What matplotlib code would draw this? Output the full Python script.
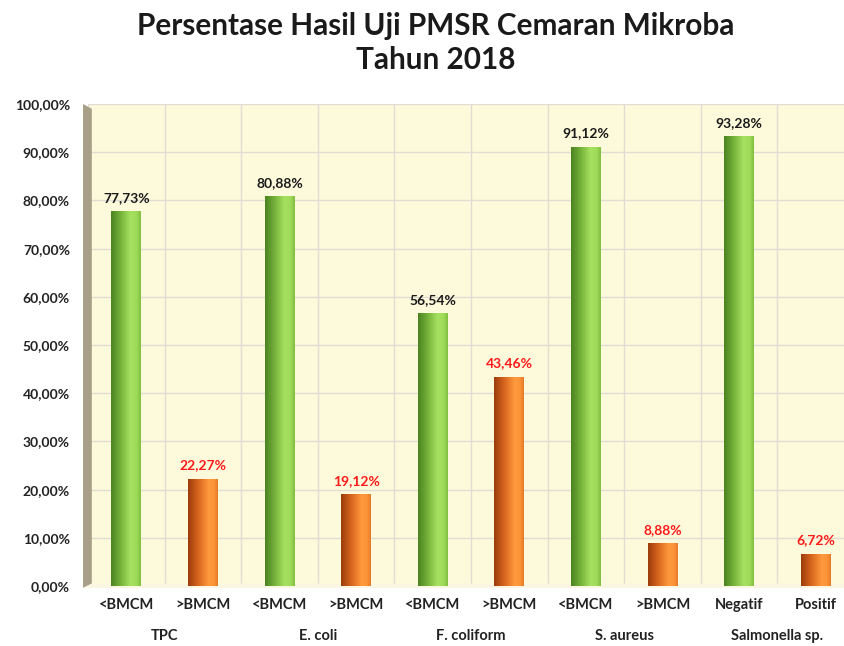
import numpy as np
import matplotlib
matplotlib.use("Agg")
import matplotlib.pyplot as plt
from matplotlib.colors import LinearSegmentedColormap
from matplotlib.patches import Polygon

# ---- data ----
sub_labels = ["<BMCM", ">BMCM", "<BMCM", ">BMCM", "<BMCM", ">BMCM",
              "<BMCM", ">BMCM", "Negatif", "Positif"]
groups = ["TPC", "E. coli", "F. coliform", "S. aureus", "Salmonella sp."]
values = [77.73, 22.27, 80.88, 19.12, 56.54, 43.46, 91.12, 8.88, 93.28, 6.72]
value_labels = ["77,73%", "22,27%", "80,88%", "19,12%", "56,54%", "43,46%",
                "91,12%", "8,88%", "93,28%", "6,72%"]
y_ticks = [0, 10, 20, 30, 40, 50, 60, 70, 80, 90, 100]
y_tick_labels = ["0,00%", "10,00%", "20,00%", "30,00%", "40,00%", "50,00%",
                 "60,00%", "70,00%", "80,00%", "90,00%", "100,00%"]
title = "Persentase Hasil Uji PMSR Cemaran Mikroba\nTahun 2018"

plt.rcParams['font.family'] = ['Lato', 'DejaVu Sans']

W, H = 844, 646
fig = plt.figure(figsize=(W / 100, H / 100), dpi=100)
fig.patch.set_facecolor("white")

# axes placed in pixel coordinates
left_px, right_px, top_px, bottom_px = 88, 854, 104, 586
ax = fig.add_axes([left_px / W, 1 - bottom_px / H,
                   (right_px - left_px) / W, (bottom_px - top_px) / H])
ax.set_facecolor("#fdf9db")

n = len(values)
x = np.arange(n) + 0.5
bar_w = 0.39

green_cmap = LinearSegmentedColormap.from_list(
    "g", [(0, "#4a8220"), (0.35, "#78b63c"), (0.65, "#a6e060"), (0.85, "#a0dc5a"), (1, "#80be40")])
orange_cmap = LinearSegmentedColormap.from_list(
    "o", [(0, "#9a3c0c"), (0.35, "#d8661e"), (0.7, "#ff9a3e"), (0.88, "#fb9238"), (1, "#e47a28")])

bars = ax.bar(x, values, width=bar_w, facecolor="none", edgecolor="none", zorder=3)
grad = np.linspace(0, 1, 256).reshape(1, -1)
for i, b in enumerate(bars):
    cmap = green_cmap if i % 2 == 0 else orange_cmap
    x0, y0 = b.get_x(), b.get_y()
    w, h = b.get_width(), b.get_height()
    im = ax.imshow(grad, cmap=cmap, extent=[x0, x0 + w, y0, y0 + h],
                   aspect="auto", zorder=3, interpolation="bilinear")
    im.set_clip_path(b)
    col = "#1a1a1a" if i % 2 == 0 else "#ff1a1a"
    ax.text(b.get_x() + w / 2, h + 1.5, value_labels[i], ha="center", va="bottom",
            fontsize=10, fontweight="bold", color=col, zorder=4)

ax.set_xlim(0, n)
ax.set_ylim(0, 100)

# grid
ax.set_yticks(y_ticks)
ax.set_yticklabels(y_tick_labels, fontsize=10, fontweight="bold", color="#222222")
ax.set_xticks(np.arange(0, n + 1), minor=False)
ax.set_xticklabels([])
ax.grid(True, color="#e0ddd2", linewidth=1.0, zorder=0)
ax.tick_params(axis="both", length=0)
ax.tick_params(axis="y", pad=13)
for s in ax.spines.values():
    s.set_visible(False)

# sub labels and group labels
xt = ax.get_xaxis_transform()
for xi, lab in zip(x, sub_labels):
    ax.text(xi, -19 / 482, lab, transform=xt, ha="center", va="center",
            fontsize=10.5, fontweight="bold", color="#222222")
for g, lab in enumerate(groups):
    ax.text(2 * g + 1, -50 / 482, lab, transform=xt, ha="center", va="center",
            fontsize=10.5, fontweight="bold", color="#222222")

# pseudo-3D left wall and floor
wall = Polygon([(-0.0065, 1.0), (0.005, 0.99), (0.005, 0.005), (-0.0065, -0.004)],
               closed=True, transform=ax.transAxes, facecolor="#a89f88",
               edgecolor="none", clip_on=False, zorder=2)
ax.add_patch(wall)
floor = Polygon([(-0.0065, -0.004), (0.005, 0.005), (1.0, 0.005), (1.0, -0.004)],
                closed=True, transform=ax.transAxes, facecolor="#fbf6e2",
                edgecolor="none", clip_on=False, zorder=2)
ax.add_patch(floor)

fig.text(436 / W, 1 - 43 / H, title, ha="center", va="center", fontsize=21.4,
         fontweight="bold", color="#1a1a1a", linespacing=1.3)

fig.savefig("out.png", dpi=100)
